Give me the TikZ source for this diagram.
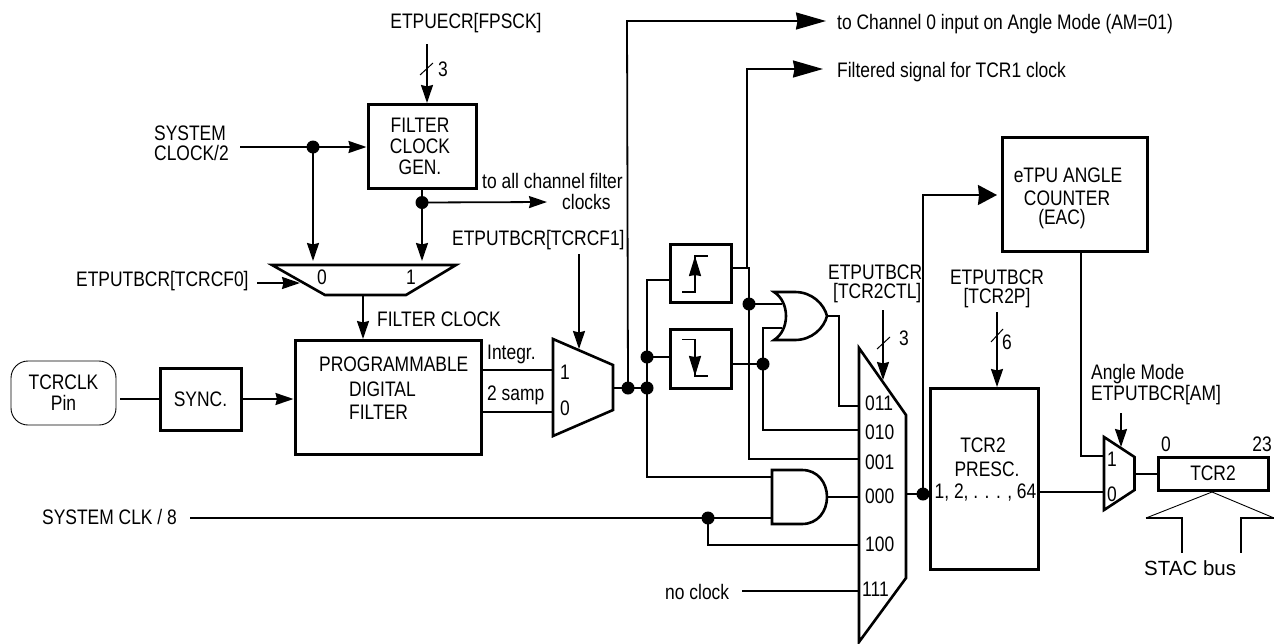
\documentclass[tikz,border=0pt]{standalone}
\usepackage{fontspec}
\setmainfont{Liberation Sans}[FakeStretch=0.83]
\newfontfamily\wideface{Liberation Sans}
\usetikzlibrary{arrows.meta}
\tikzset{
  wire/.style={line width=1.8pt},
  arr/.style={wire,-{Stealth[length=18pt,width=12pt,inset=1.5pt]}},
  bigarr/.style={wire,-{Stealth[length=30pt,width=17pt,inset=1.5pt]}},
  fatarr/.style={wire,-{Stealth[length=19pt,width=20pt,inset=1pt]}},
  block/.style={draw,line width=3pt,inner sep=0pt,align=center,minimum width=#1},
  gate/.style={line width=2.6pt,line join=miter},
  dot/.style={circle,fill=black,inner sep=0pt,minimum size=13pt},
  txt/.style={inner sep=0pt,align=center},
  ltxt/.style={inner sep=0pt,anchor=west,align=left},
}
\begin{document}
\begin{tikzpicture}[x=1pt,y=-1pt,font=\fontsize{21}{21}\selectfont]
\useasboundingbox (0,0) rectangle (1274,643);
% blocks
\node[block=108pt,minimum height=84pt] (fcg) at (422,146) {\hspace*{-4pt}FILTER\\\hspace*{-4pt}CLOCK\\\hspace*{-4pt}GEN.};
\node[draw,line width=0.9pt,rounded corners=17pt,minimum width=105pt,minimum height=64pt,inner sep=0pt,align=center] (pin) at (63.5,393) {TCRCLK\\Pin};
\node[block=81pt,minimum height=62pt] (sync) at (200.5,399) {SYNC.};
\node[block=186pt,minimum height=114pt] (pdf) at (388,397) {};
\node[ltxt] at (319,364) {PROGRAMMABLE};
\node[ltxt] at (349,389) {DIGITAL};
\node[ltxt] at (349,412) {FILTER};
\node[block=61pt,minimum height=58pt] (rise) at (700.5,273) {};
\node[block=61pt,minimum height=59pt] (fall) at (700.5,358.5) {};
\node[block=145pt,minimum height=114pt] (eac) at (1074.5,194) {};
\node[txt] at (1068,175) {eTPU ANGLE};
\node[txt] at (1067,198) {COUNTER};
\node[txt] at (1062,219) {(EAC)};
\node[block=108pt,minimum height=181pt] (presc) at (984.5,478.5) {};
\node[txt] at (983,445) {TCR2};
\node[txt] at (987,469) {PRESC.};
\node[txt] at (985.5,493) {1, 2, . . . , 64};
\node[block=110pt,minimum height=33pt] (tcr) at (1213,473.5) {TCR2};
% muxes
\draw[gate] (272,265) -- (456,265) -- (406,295) -- (325,295) -- cycle;
\node[txt] at (322,277) {0};
\node[txt] at (411,277) {1};
\draw[gate] (553,339) -- (613,365) -- (613,410) -- (553,436) -- cycle;
\node[txt] at (565,372) {1};
\node[txt] at (565,408) {0};
\draw[gate] (859,348) -- (906,415) -- (906,578) -- (859,642) -- cycle;
\node[ltxt] at (865,403) {011};
\node[ltxt] at (865,432) {010};
\node[ltxt] at (865,462) {001};
\node[ltxt] at (865,496) {000};
\node[ltxt] at (865,544) {100};
\node[ltxt] at (862,589) {111};
\draw[gate] (1104,437) -- (1134.5,457) -- (1134.5,490) -- (1104,510) -- cycle;
\node[txt] at (1112,459) {1};
\node[txt] at (1112,494) {0};
% gates
\draw[gate] (774,292) -- (795,292) .. controls (812,292) and (824,304) .. (827,316)
  .. controls (824,328) and (812,340) .. (795,340) -- (774,340)
  .. controls (790,330) and (790,302) .. (774,292) -- cycle;
\draw[gate] (772,470) -- (802,470) .. controls (818,470) and (827,483) .. (827,497)
  .. controls (827,511) and (818,524) .. (802,524) -- (772,524) -- cycle;
% edge symbols
\draw[wire] (682,292) -- (695,292) -- (695,256) -- (708,256);
\draw[-{Stealth[length=20pt,width=12pt,inset=1pt]},wire] (695,278) -- (695,256);
\draw[wire] (682,339.5) -- (695,339.5) -- (695,376) -- (708,376);
\draw[-{Stealth[length=20pt,width=12pt,inset=1pt]},wire] (695,354) -- (695,376);
% labels
\node[txt] at (466,23) {ETPUECR[FPSCK]};
\node[txt] at (443,69) {3};
\node[ltxt] at (154,133) {SYSTEM};
\node[ltxt] at (154,153) {CLOCK/2};
\node[ltxt] at (482,181) {to all channel filter};
\node[ltxt] (clk) at (562,202) {clocks};
\node[ltxt] (tcf1) at (452,240) {ETPUTBCR[TCRCF1]};
\node[ltxt] (tcf0) at (76,281) {ETPUTBCR[TCRCF0]};
\node[ltxt] at (377,319) {FILTER CLOCK};
\node[ltxt] at (487,354) {Integr.};
\node[ltxt] at (487,395) {2 samp};
\node[ltxt] (sc8) at (42,517) {SYSTEM CLK / 8};
\node[ltxt] (noclk) at (665,592) {no clock};
\node[ltxt] (ch0) at (837,24) {to Channel 0 input on Angle Mode (AM=01)};
\node[ltxt] (fs) at (837,72) {Filtered signal for TCR1 clock};
\node[ltxt] at (828,272) {ETPUTBCR};
\node[ltxt] at (833,293) {[TCR2CTL]};
\node[txt] at (904,338) {3};
\node[txt] at (997,277) {ETPUTBCR};
\node[txt] at (997,298) {[TCR2P]};
\node[ltxt] at (1091,374) {Angle Mode};
\node[ltxt] at (1091,395) {ETPUTBCR[AM]};
\node[txt] at (1166,444) {0};
\node[txt] at (1262,444) {23};
\node[ltxt,font=\fontsize{20.5}{21}\wideface] at (1144,568) {STAC bus};
% junction dots
\node[dot] (d1) at (313,147) {};
\node[dot] (d2) at (422,202.5) {};
\node[dot] (d3) at (628,388) {};
\node[dot] (d4) at (647,388) {};
\node[dot] (d5) at (647,357) {};
\node[dot] (d6) at (749,304) {};
\node[dot] (d7) at (763,364) {};
\node[dot] (d8) at (708,518) {};
\node[dot] (d9) at (923,494) {};
% free ends and pins
\coordinate (a1) at (427,44);
\coordinate (a1b) at (427,103);
\coordinate (s1) at (240,147);
\coordinate (m0a) at (313,261);
\coordinate (m0b) at (422,261);
\coordinate (ac) at (547,202);
\coordinate (t0a) at (257,283);
\coordinate (t0b) at (300,283);
\coordinate (mo) at (363,295);
\coordinate (pi) at (363,339);
\coordinate (t1a) at (579,254);
\coordinate (t1b) at (579,349);
\coordinate (pinr) at (120,399);
\coordinate (sc8e) at (190,518);
\coordinate (nce) at (742,591);
% connectors
\draw[arr] (a1) -- (a1b);
\draw[wire,line width=1pt] (420,75) -- (433,63);
\draw[wire] (s1) -- (d1.center);
\draw[arr] (d1.center) -- (fcg.west |- d1);
\draw[arr] (d1.center) -- (m0a);
\draw[wire] (d2.center |- fcg.south) -- (d2.center);
\draw[arr] (d2.center) -- (m0b);
\draw[arr] (d2.center) -- (ac);
\draw[arr] (t0a) -- (t0b);
\draw[arr] (mo) -- (pi);
\draw[arr] (t1a) -- (t1b);
\draw[wire] (pinr) -- (sync.west |- pinr);
\draw[arr] (sync.east |- pinr) -- (pdf.west |- pinr);
\draw[wire] (481,370) -- (553,370);
\draw[wire] (483,412) -- (553,412);
\draw[wire] (613,388) -- (d3.center) -- (d4.center);
\draw[bigarr] (d3.center) -- (627,21) -- (826,21);
\draw[wire] (d4.center) -- (d5.center) -- (647,280) -- (rise.west |- 647,280);
\draw[wire] (d5.center) -- (fall.west |- d5);
\draw[wire] (d4.center) -- (647,477) -- (772,477);
\draw[wire] (rise.east |- 0,268) -- (749,268) -- (d6.center);
\draw[bigarr] (747,268) -- (747,69) -- (823,69);
\draw[wire] (d6.center) -- (782,304);
\draw[wire] (d6.center) -- (749,459) -- (859,459);
\draw[wire] (fall.east |- 0,364) -- (d7.center);
\draw[wire] (782,328) -- (763,328) -- (d7.center) -- (763,430) -- (859,430);
\draw[wire] (827,316) -- (839,316) -- (839,406) -- (859,406);
\draw[wire] (827,497) -- (859,497);
\draw[wire] (sc8e) -- (d8.center) -- (772,518);
\draw[wire] (d8.center) -- (708,545) -- (859,545);
\draw[wire] (nce) -- (859,591);
\draw[arr] (883,310) -- (883,380);
\draw[wire,line width=1pt] (877,349) -- (890,337);
\draw[wire] (906,494) -- (d9.center) -- (930,494);
\draw[fatarr] (d9.center) -- (923,195) -- (997,195);
\draw[arr] (997,312) -- (997,387);
\draw[wire,line width=1pt] (991,342) -- (1003,329);
\node[txt] at (1007,342) {6};
\draw[wire] (1039,492) -- (1104,492);
\draw[wire] (eac.south -| 1081,0) -- (1081,456) -- (1104,456);
\draw[arr] (1121,413) -- (1121,447);
\draw[wire] (1134.5,474) -- (1158,474);
\draw[line width=0.9pt] (1146,518) -- (1212,492) -- (1274,518);
\draw[wire] (1146,518) -- (1182,518) -- (1182,553);
\draw[wire] (1274,518) -- (1241,518) -- (1241,553);
\end{tikzpicture}
\end{document}
